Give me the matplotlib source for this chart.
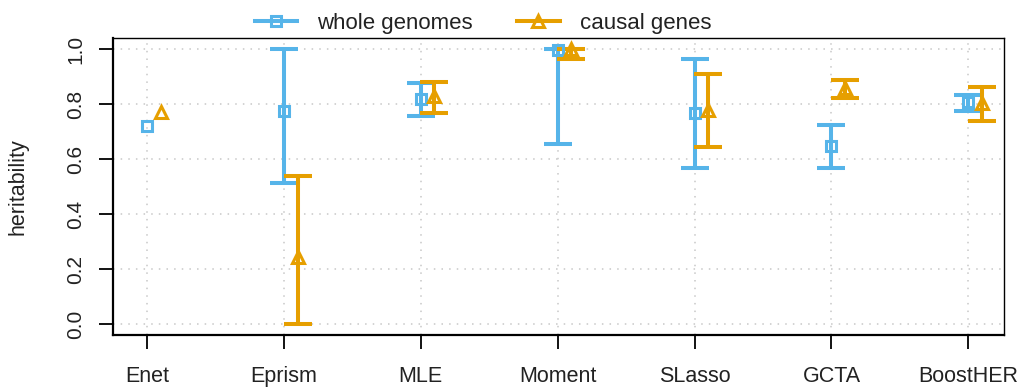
import numpy as np
import matplotlib.pyplot as plt
from matplotlib.lines import Line2D

plt.rcParams["font.family"] = ["Liberation Sans", "DejaVu Sans"]

methods = ["Enet", "Eprism", "MLE", "Moment", "SLasso", "GCTA", "BoostHER"]

# whole genomes: estimate, lower, upper (Enet has no interval)
whole_est = [0.72, 0.775, 0.817, 0.997, 0.766, 0.647, 0.808]
whole_lo = [np.nan, 0.513, 0.756, 0.655, 0.568, 0.568, 0.776]
whole_hi = [np.nan, 1.0, 0.876, 1.0, 0.963, 0.724, 0.834]

# causal genes
causal_est = [0.77, 0.245, 0.83, 1.0, 0.78, 0.857, 0.805]
causal_lo = [np.nan, 0.0, 0.768, 0.963, 0.643, 0.822, 0.74]
causal_hi = [np.nan, 0.538, 0.88, 1.0, 0.909, 0.887, 0.861]

blue = "#56B4E9"
orange = "#E69F00"

fig = plt.figure(figsize=(10.26, 3.9), dpi=100)
ax = fig.add_axes([113 / 1026, 55 / 390, 891 / 1026, 297 / 390])

x = np.arange(1, len(methods) + 1)
offset = 0.1


def draw_series(xs, est, lo, hi, color, marker, ms):
    est = np.array(est)
    lo = np.array(lo)
    hi = np.array(hi)
    ok = ~np.isnan(lo)
    ax.errorbar(xs[ok], est[ok], yerr=[est[ok] - lo[ok], hi[ok] - est[ok]],
                fmt="none", ecolor=color, elinewidth=2.9, capsize=10,
                capthick=2.9, zorder=3)
    ax.plot(xs, est, linestyle="none", marker=marker, markersize=ms,
            markerfacecolor="none", markeredgecolor=color,
            markeredgewidth=2.2, zorder=4)


draw_series(x, whole_est, whole_lo, whole_hi, blue, "s", 7.5)
draw_series(x + offset, causal_est, causal_lo, causal_hi, orange, "^", 9)

ax.set_xlim(0.752, 7.26)
ax.set_ylim(-0.04, 1.04)
ax.set_xticks(x)
ax.set_xticklabels(methods, fontsize=15.5, color="#222222")
yt = np.arange(0, 1.01, 0.2)
ax.set_yticks(yt)
ax.set_yticklabels([f"{v:.1f}" for v in yt], fontsize=15, rotation=90,
                   va="center", color="#222222")
ax.tick_params(axis="both", direction="out", length=10, width=1.3,
               color="black")
ax.tick_params(axis="x", pad=12)
ax.tick_params(axis="y", pad=10)
ax.set_ylabel("heritability", fontsize=15.5, color="#222222")
ax.yaxis.set_label_coords(-84 / 891, 0.5)

for v in yt:
    ax.axhline(v, color="#c8c8c8", linestyle=(0, (1, 4)), linewidth=1.1,
               zorder=1)
for xv in x:
    ax.axvline(xv, color="#c8c8c8", linestyle=(0, (1, 4)), linewidth=1.1,
               zorder=1)

for side in ["left", "bottom"]:
    ax.spines[side].set_linewidth(1.6)
for side in ["top", "right"]:
    ax.spines[side].set_linewidth(1.0)

handles = [
    Line2D([0], [0], color=blue, linewidth=2.9, marker="s", markersize=7.5,
           markerfacecolor="none", markeredgewidth=2.2),
    Line2D([0], [0], color=orange, linewidth=2.9, marker="^", markersize=9,
           markerfacecolor="none", markeredgewidth=2.2),
]
fig.legend(handles, ["whole genomes", "causal genes"], loc="center left",
           bbox_to_anchor=(255 / 1026, 1 - 23 / 390), ncol=2, frameon=False,
           fontsize=16, handlelength=1.9, handletextpad=0.9,
           columnspacing=2.0, borderpad=0, borderaxespad=0,
           labelcolor="#222222")

fig.savefig("out.png", dpi=100)
